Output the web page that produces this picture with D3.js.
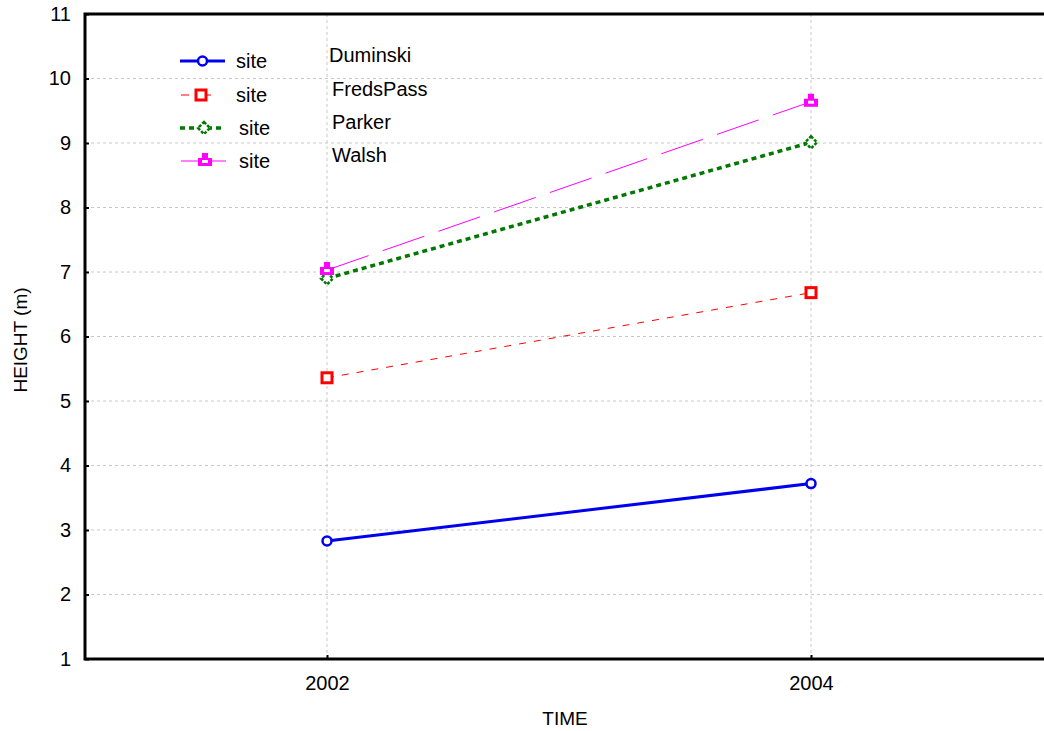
<!DOCTYPE html>
<html>
<head>
<meta charset="utf-8">
<script src="https://cdn.jsdelivr.net/npm/d3@7"></script>
<style>
  body { margin: 0; background: #fff; }
  text { font-family: "Liberation Sans", Arial, sans-serif; fill: #000; }
</style>
</head>
<body>
<div id="chart"></div>
<script>
// data
var years = ["2002", "2004"];
var sites = ["Duminski", "FredsPass", "Parker", "Walsh"];
var duminski = [2.83, 3.72];
var fredsPass = [5.36, 6.68];
var parker = [6.90, 9.01];
var walsh = [7.03, 9.64];
var yTicks = [1, 2, 3, 4, 5, 6, 7, 8, 9, 10, 11];

var series = [
  {name: sites[0], values: duminski, color: "#0000ee", width: 3, dash: null, marker: "circle"},
  {name: sites[1], values: fredsPass, color: "#ff0000", width: 1, dash: "7,8", marker: "square"},
  {name: sites[2], values: parker, color: "#007800", width: 3.5, dash: "5,4", marker: "diamond"},
  {name: sites[3], values: walsh, color: "#ff00ff", width: 1, dash: "44,15", marker: "house"}
];

var margin = {top: 14, right: -9, bottom: 72, left: 85},
    W = 1044, H = 731,
    width = W - margin.left - margin.right,
    height = H - margin.top - margin.bottom;

var svg = d3.select("#chart").append("svg")
    .attr("width", W).attr("height", H)
  .append("g")
    .attr("transform", "translate(" + margin.left + "," + margin.top + ")");

var x = d3.scalePoint().domain(years).range([0, width]).padding(0.5);
var y = d3.scaleLinear().domain([1, 11]).range([height, 0]);

// grid
svg.append("g").selectAll("line").data(yTicks.slice(1, -1)).join("line")
  .attr("x1", 0).attr("x2", width)
  .attr("y1", function(d) { return y(d); }).attr("y2", function(d) { return y(d); })
  .attr("stroke", "#c8c8c8").attr("stroke-dasharray", "3,3");
svg.append("g").selectAll("line").data(years).join("line")
  .attr("x1", function(d) { return x(d); }).attr("x2", function(d) { return x(d); })
  .attr("y1", 0).attr("y2", height)
  .attr("stroke", "#c8c8c8").attr("stroke-dasharray", "3,3");

// axes
var yAxis = svg.append("g")
  .call(d3.axisLeft(y).tickValues(yTicks).tickSize(-4).tickPadding(14).tickFormat(d3.format("d")));
var xAxis = svg.append("g")
  .attr("transform", "translate(0," + height + ")")
  .call(d3.axisBottom(x).tickSize(-4).tickPadding(17));
[xAxis, yAxis].forEach(function(a) {
  a.select(".domain").remove();
  a.selectAll(".tick line").attr("stroke", "#000").attr("stroke-width", 2);
  a.selectAll(".tick text").style("font-size", "20px").style("font-family", "Liberation Sans, Arial, sans-serif");
});
// box frame
svg.append("rect").attr("x", 0).attr("y", 0).attr("width", width).attr("height", height)
  .attr("fill", "none").attr("stroke", "#000").attr("stroke-width", 3);

// axis titles
svg.append("text").attr("x", 565 - margin.left).attr("y", height + 66)
  .attr("text-anchor", "middle").style("font-size", "19px").text("TIME");
svg.append("text").attr("transform", "translate(" + (27 - margin.left) + "," + (340 - margin.top) + ") rotate(-90)")
  .attr("text-anchor", "middle").style("font-size", "19px").text("HEIGHT (m)");

function drawMarker(g, type, color, cx, cy) {
  if (type === "circle") {
    g.append("circle").attr("cx", cx).attr("cy", cy).attr("r", 4.5)
      .attr("fill", "#fff").attr("stroke", color).attr("stroke-width", 2.5);
  } else if (type === "square") {
    g.append("rect").attr("x", cx - 5).attr("y", cy - 5).attr("width", 10).attr("height", 10)
      .attr("fill", "#fff").attr("stroke", color).attr("stroke-width", 3);
  } else if (type === "diamond") {
    g.append("path").attr("d", "M" + cx + "," + (cy - 6) + "L" + (cx + 6) + "," + cy + "L" + cx + "," + (cy + 6) + "L" + (cx - 6) + "," + cy + "Z")
      .attr("fill", "#fff").attr("stroke", color).attr("stroke-width", 2.5).attr("stroke-dasharray", "3,1.5");
  } else {
    g.append("path").attr("d", "M" + (cx - 3) + "," + (cy - 8) + "H" + (cx + 3) + "V" + (cy - 3) + "H" + (cx + 7) + "V" + (cy + 5) + "H" + (cx - 7) + "V" + (cy - 3) + "H" + (cx - 3) + "Z")
      .attr("fill", color);
    g.append("rect").attr("x", cx - 3).attr("y", cy - 1).attr("width", 6).attr("height", 3).attr("fill", "#fff");
  }
}

// lines
var line = d3.line()
  .x(function(d, i) { return x(years[i]); })
  .y(function(d) { return y(d); });

series.slice().reverse().forEach(function(s) {
  svg.append("path").datum(s.values)
    .attr("fill", "none").attr("stroke", s.color).attr("stroke-width", s.width)
    .attr("stroke-dasharray", s.dash).attr("d", line);
});
series.forEach(function(s) {
  var g = svg.append("g");
  s.values.forEach(function(v, i) { drawMarker(g, s.marker, s.color, x(years[i]), y(v)); });
});

// legend
var legendY = [61, 95, 128, 161];
var legendNameX = [329, 332, 332, 332];
series.forEach(function(s, i) {
  var ly = legendY[i] - margin.top;
  var g = svg.append("g");
  var lx0 = 180 - margin.left, lx1 = 225 - margin.left, cx = (lx0 + lx1) / 2;
  if (i === 1) { lx0 = 181 - margin.left; lx1 = 218 - margin.left; cx = 201 - margin.left; }
  if (i === 2) { lx0 = 180 - margin.left; lx1 = 221 - margin.left; cx = 204 - margin.left; }
  if (i === 3) { lx0 = 181 - margin.left; lx1 = 226 - margin.left; cx = 205 - margin.left; }
  g.append("line").attr("x1", lx0).attr("x2", lx1).attr("y1", ly).attr("y2", ly)
    .attr("stroke", s.color).attr("stroke-width", s.width)
    .attr("stroke-dasharray", i === 1 ? "8,14,0,0" : (i === 3 ? null : s.dash));
  drawMarker(g, s.marker, s.color, cx, ly);
  g.append("text").attr("x", (i < 2 ? 236 : 239) - margin.left).attr("y", ly + 7)
    .style("font-size", "20px").text("site");
  g.append("text").attr("x", legendNameX[i] - margin.left).attr("y", ly + 1)
    .style("font-size", "20px").text(s.name);
});
</script>
</body>
</html>
